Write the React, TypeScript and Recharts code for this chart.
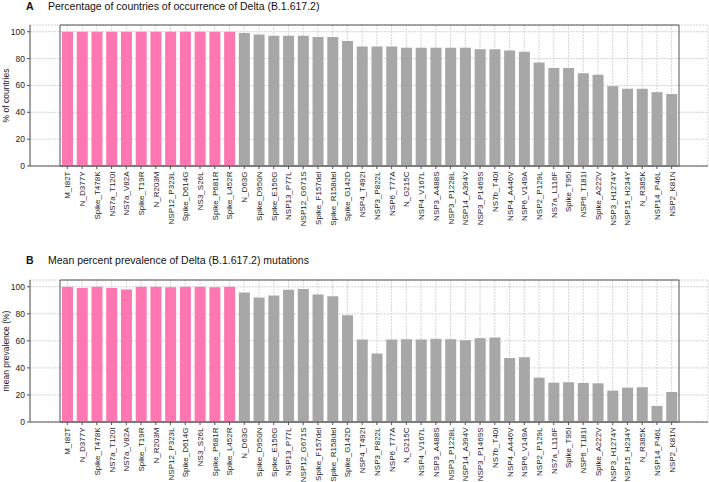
import React from 'react';
import { BarChart, Bar, XAxis, YAxis, CartesianGrid, Cell, ReferenceArea } from 'recharts';

const mutations = [
  'M_I82T', 'N_D377Y', 'Spike_T478K', 'NS7a_T120I', 'NS7a_V82A', 'Spike_T19R', 'N_R203M', 'NSP12_P323L',
  'Spike_D614G', 'NS3_S26L', 'Spike_P681R', 'Spike_L452R', 'N_D63G', 'Spike_D950N', 'Spike_E156G',
  'NSP13_P77L', 'NSP12_G671S', 'Spike_F157del', 'Spike_R158del', 'Spike_G142D', 'NSP4_T492I', 'NSP3_P822L',
  'NSP6_T77A', 'N_G215C', 'NSP4_V167L', 'NSP3_A488S', 'NSP3_P1228L', 'NSP14_A394V', 'NSP3_P1469S',
  'NS7b_T40I', 'NSP4_A446V', 'NSP6_V149A', 'NSP2_P129L', 'NS7a_L116F', 'Spike_T95I', 'NSP6_T181I',
  'Spike_A222V', 'NSP3_H1274Y', 'NSP15_H234Y', 'N_R385K', 'NSP14_P46L', 'NSP2_K81N',
];

const pctCountries = [
  100, 100, 100, 100, 100, 100, 100, 100, 100, 100, 100, 100, 99, 98, 97,
  97, 97, 96, 96, 93, 89, 89,
  89, 88, 88, 88, 88, 88, 87,
  87, 86, 85, 77, 73, 73, 69,
  68, 59.5, 57.5, 57.5, 55, 53.6,
];

const meanPrevalence = [
  100, 99, 100, 99, 98, 100, 100, 99.7, 100, 100, 99.7, 100, 95.8, 92, 93.6,
  97.8, 98.3, 94.3, 93, 79, 61, 50.6,
  61, 61.2, 61, 61.5, 61.2, 60.5, 62,
  62.5, 47.4, 47.9, 32.8, 29.1, 29.4, 28.9,
  28.6, 23.2, 25.4, 25.7, 11.9, 22.2,
];

const highlighted = [
  'M_I82T', 'N_D377Y', 'Spike_T478K', 'NS7a_T120I', 'NS7a_V82A', 'Spike_T19R', 'N_R203M', 'NSP12_P323L',
  'Spike_D614G', 'NS3_S26L', 'Spike_P681R', 'Spike_L452R',
];

const yTicks = [0, 20, 40, 60, 80, 100];

const FONT = '"Liberation Sans", Arial, sans-serif';
const PINK = '#FF77B1';
const GRAY = '#A7A7A7';

const dataA = mutations.map((m, i) => ({ name: m, value: pctCountries[i] }));
const dataB = mutations.map((m, i) => ({ name: m, value: meanPrevalence[i] }));

const XTick = (props: any) => {
  const { x, y, payload } = props;
  return (
    <text
      x={0}
      y={0}
      transform={`translate(${x + 3},${y + 0.5}) rotate(-90)`}
      textAnchor="end"
      fontSize={8}
      fontFamily={FONT}
      fill="#222"
    >
      {payload.value}
    </text>
  );
};

const Panel = (props: {
  data: { name: string; value: number }[];
  height: number;
  marginTop: number;
  xHeight: number;
  yLabel: string;
  topStroke: string;
  topWidth: number;
}) => {
  const { data, height, marginTop, xHeight, yLabel, topStroke, topWidth } = props;
  return (
    <BarChart
      width={709}
      height={height}
      data={data}
      margin={{ top: marginTop, right: 1, bottom: 2, left: 0 }}
      barSize={11}
    >
      <CartesianGrid stroke="#d4d4d4" strokeDasharray="2 1" vertical horizontal />
      <XAxis
        dataKey="name"
        interval={0}
        padding={{ left: 30, right: 29 }}
        height={xHeight}
        tick={<XTick />}
        tickSize={3}
        axisLine={{ stroke: '#555' }}
        tickLine={{ stroke: '#555' }}
      />
      <YAxis
        domain={[0, 105]}
        ticks={yTicks}
        width={30}
        tickSize={3}
        allowDataOverflow
        axisLine={{ stroke: '#555' }}
        tickLine={{ stroke: '#555' }}
        tick={{ fontSize: 8.5, fontFamily: FONT, fill: '#222' }}
        label={{
          value: yLabel,
          angle: -90,
          position: 'insideLeft',
          offset: 0,
          dx: 6,
          style: { fontSize: 8.5, fontFamily: FONT, fill: '#222', textAnchor: 'middle' },
        }}
      />
      <Bar dataKey="value" isAnimationActive={false}>
        {data.map((d) => (
          <Cell key={d.name} fill={highlighted.includes(d.name) ? PINK : GRAY} />
        ))}
      </Bar>
      <ReferenceArea y1={0} y2={105} fill="none" stroke="#555" strokeWidth={1} ifOverflow="visible" />
      <ReferenceArea y1={105} y2={105} stroke={topStroke} strokeWidth={topWidth} fill="none" ifOverflow="visible" />
    </BarChart>
  );
};

const titleStyle: React.CSSProperties = {
  position: 'absolute',
  fontFamily: FONT,
  fontSize: 10.5,
  color: '#111',
  whiteSpace: 'nowrap',
  lineHeight: '12px',
};

export default function App() {
  return (
    <div style={{ position: 'absolute', left: 0, top: 0, width: 709, height: 482, background: '#fff', overflow: 'hidden' }}>
      <div style={{ ...titleStyle, left: 26, top: 0, fontWeight: 'bold' }}>A</div>
      <div style={{ ...titleStyle, left: 48, top: 0 }}>Percentage of countries of occurrence of Delta (B.1.617.2)</div>
      <div style={{ position: 'absolute', left: 0, top: 0 }}>
        <Panel data={dataA} height={240} marginTop={25} xHeight={72} yLabel="% of countries" topStroke="#555" topWidth={1} />
      </div>
      <div style={{ ...titleStyle, left: 26, top: 254, fontWeight: 'bold' }}>B</div>
      <div style={{ ...titleStyle, left: 48, top: 254 }}>Mean percent prevalence of Delta (B.1.617.2) mutations</div>
      <div style={{ position: 'absolute', left: 0, top: 240 }}>
        <Panel data={dataB} height={242} marginTop={40} xHeight={58} yLabel="mean prevalence (%)" topStroke="#999" topWidth={2} />
      </div>
    </div>
  );
}
